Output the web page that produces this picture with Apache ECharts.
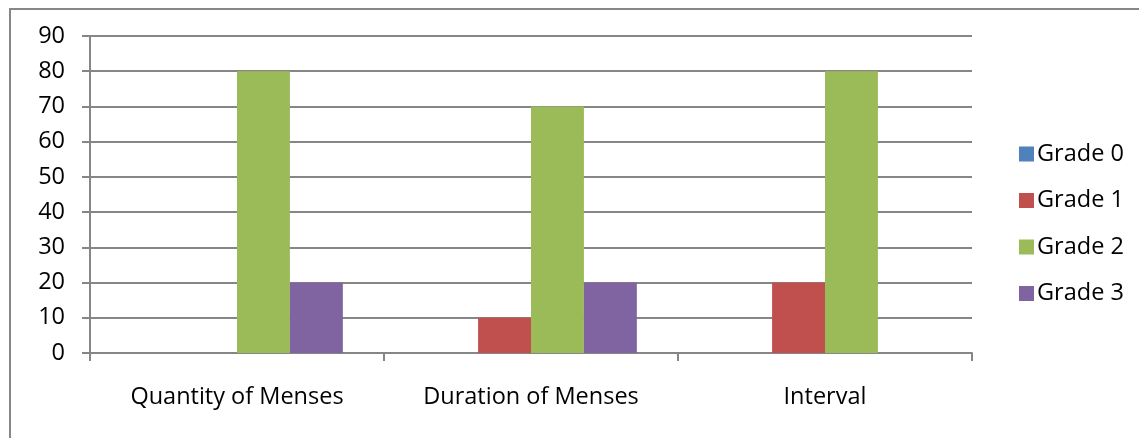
<!DOCTYPE html>
<html>
<head>
<meta charset="utf-8">
<script src="https://cdn.jsdelivr.net/npm/echarts@6/dist/echarts.min.js"></script>
<style>
html,body{margin:0;padding:0;background:#fff;}
#frame{position:absolute;left:9px;top:8px;width:1140px;height:440px;border:2px solid #878787;box-sizing:border-box;}
#c{position:absolute;left:0;top:0;width:1139px;height:438px;}
</style>
</head>
<body>
<div id="frame"></div>
<div id="c"></div>
<script>
const categories = ['Quantity of Menses', 'Duration of Menses', 'Interval'];
const seriesNames = ['Grade 0', 'Grade 1', 'Grade 2', 'Grade 3'];
const grade0 = [0, 0, 0];
const grade1 = [0, 10, 20];
const grade2 = [80, 70, 80];
const grade3 = [20, 20, 0];
const colors = ['#4F81BD', '#C0504D', '#9BBB59', '#8064A2'];

const data = [grade0, grade1, grade2, grade3];
const font = '"Open Sans", "Noto Sans", sans-serif';
const fs = 23.5;
const chart = echarts.init(document.getElementById('c'));
chart.setOption({
  animation: false,
  color: colors,
  grid: {left: 90, right: 167, top: 36, bottom: 85, containLabel: false},
  legend: {
    orient: 'vertical', left: 1014, top: 137,
    itemWidth: 15, itemHeight: 15, itemGap: 22.5,
    icon: 'rect',
    data: seriesNames,
    textStyle: {fontFamily: font, fontSize: fs, color: '#000', padding: [0,0,0,-2]}
  },
  xAxis: {
    type: 'category', data: categories,
    axisLine: {lineStyle: {color: '#868686', width: 2}},
    axisTick: {show: true, length: 8, interval: 0, lineStyle: {color: '#868686', width: 2}},
    axisLabel: {fontFamily: font, fontSize: fs, color: '#000', margin: 32, interval: 0}
  },
  yAxis: {
    type: 'value', min: 0, max: 90, interval: 10,
    axisLine: {show: true, lineStyle: {color: '#868686', width: 2}},
    axisTick: {show: true, length: 8, inside: false, lineStyle: {color: '#868686', width: 2}},
    splitLine: {lineStyle: {color: '#868686', width: 2}},
    axisLabel: {fontFamily: font, fontSize: fs, color: '#000', margin: 25}
  },
  series: data.map((d, i) => ({
    name: seriesNames[i], type: 'bar', data: d,
    barGap: '0%', barCategoryGap: '28%'
  }))
});
</script>
</body>
</html>
